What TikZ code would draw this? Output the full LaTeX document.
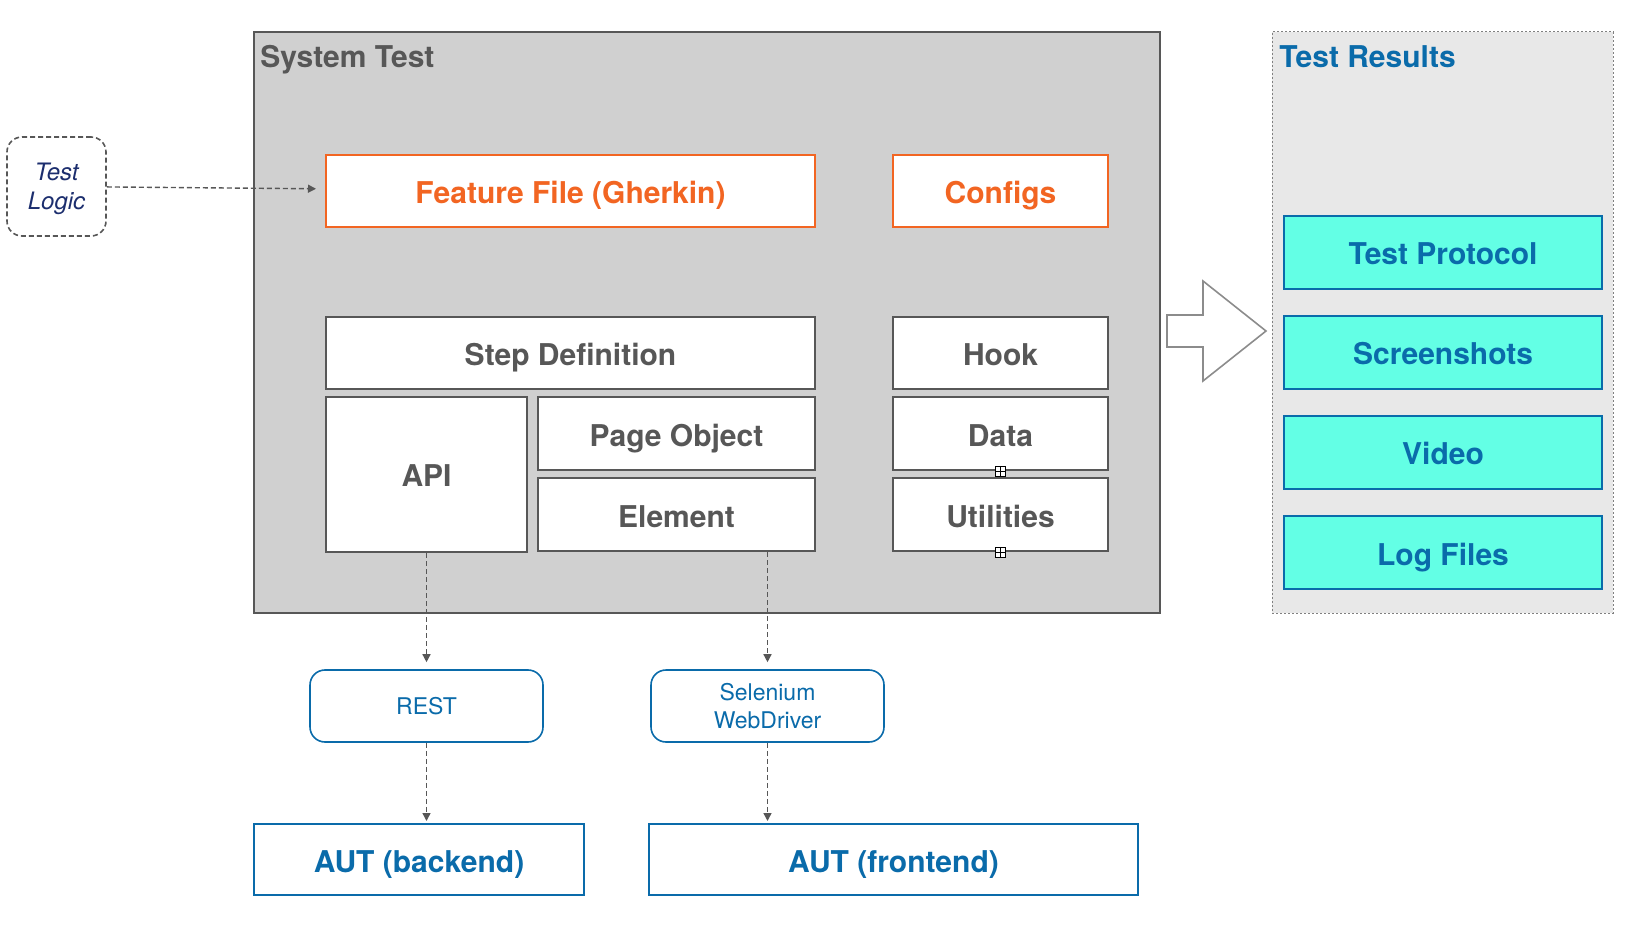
\documentclass[tikz,border=0pt]{standalone}
\usepackage{fontspec}
\setmainfont{TeX Gyre Heros}
\usetikzlibrary{arrows.meta,positioning}
\definecolor{txtgray}{HTML}{575757}
\definecolor{sysfill}{HTML}{D0D0D0}
\definecolor{resfill}{HTML}{E8E8E8}
\definecolor{ffOrange}{HTML}{F26522}
\definecolor{resBlue}{HTML}{0A6BAA}
\definecolor{resCyan}{HTML}{63FFE5}
\definecolor{logicNavy}{HTML}{1C2E6E}
\tikzset{
  block/.style     = {shape=rectangle, draw=txtgray, line width=1pt,
                      fill=white, inner sep=0pt, text=txtgray,
                      text height=12.5pt, text depth=0pt,
                      font=\bfseries\fontsize{15}{18}\selectfont},
  gherkin/.style   = {block, draw=ffOrange, text=ffOrange},
  result/.style    = {block, draw=resBlue, fill=resCyan, text=resBlue,
                      minimum width=159pt, minimum height=36.5pt},
  aut/.style       = {block, draw=resBlue, text=resBlue,
                      minimum height=35.5pt},
  lib/.style       = {shape=rectangle, rounded corners=7.5pt, draw=resBlue,
                      line width=0.8pt, fill=white, text=resBlue,
                      align=center, inner sep=0pt,
                      font=\fontsize{11.5}{14}\selectfont,
                      minimum width=116.5pt, minimum height=36pt},
  title/.style     = {anchor=base west, inner sep=0pt,
                      font=\bfseries\fontsize{15}{18}\selectfont},
  flow/.style      = {draw=txtgray, line width=0.7pt,
                      dash pattern=on 2.5pt off 1.5pt,
                      -{Triangle[length=4pt,width=4pt]}},
  marker/.style    = {draw=black, fill=white, line width=0.4pt,
                      minimum size=5pt, inner sep=0pt,
                      path picture={\draw[line width=0.4pt]
                        (path picture bounding box.north) -- (path picture bounding box.south)
                        (path picture bounding box.west) -- (path picture bounding box.east);}}
}

\begin{document}
\begin{tikzpicture}[x=0.5pt, y=-0.5pt]
  \useasboundingbox (0,0) rectangle (1638,935);

  % containers
  \node [draw=txtgray, line width=1pt, fill=sysfill,
         minimum width=453pt, minimum height=290.5pt] (systest) at (707,322.5) {};
  \node [title, text=txtgray] (systitle) at (260,68) {System Test};
  \node [draw=gray, line width=0.5pt, dash pattern=on 1pt off 1pt, fill=resfill,
         minimum width=170.5pt, minimum height=290.5pt] (results) at (1442.5,322.5) {};
  \node [title, text=resBlue] (restitle) at (1279,68) {Test Results};

  % test logic
  \node [draw=txtgray, line width=0.8pt, dash pattern=on 2.5pt off 1.5pt,
         rounded corners=7.5pt, minimum size=49.5pt, align=center, text depth=0pt,
         text=logicNavy, font=\itshape\fontsize{12}{14.5}\selectfont]
        (logic) at (56.5,186.5) {Test\\Logic};

  % system test blocks
  \node [gherkin, minimum width=244.5pt, minimum height=36pt] (feature) at (570.5,191) {Feature File (Gherkin)};
  \node [gherkin, minimum width=107.5pt, minimum height=36pt] (configs) at (1000.5,191) {Configs};
  \node [block, minimum width=244.5pt, minimum height=36pt] (stepdef) at (570.5,353) {Step Definition};
  \node [block, minimum width=107.5pt, minimum height=36pt] (hook) at (1000.5,353) {Hook};
  \node [block, minimum width=100.5pt, minimum height=77.5pt,
         below right=3pt and 0pt of stepdef.south west] (api) {API};
  \node [block, minimum width=138.5pt, minimum height=36.5pt,
         below left=3pt and 0pt of stepdef.south east] (pageobj) {Page Object};
  \node [block, minimum width=138.5pt, minimum height=36.5pt,
         below=3pt of pageobj] (element) {Element};
  \node [block, minimum width=107.5pt, minimum height=36.5pt,
         below=3pt of hook] (data) {Data};
  \node [block, minimum width=107.5pt, minimum height=36.5pt,
         below=3pt of data] (utils) {Utilities};
  \node [marker] (datamark) at (data.south) {};
  \node [marker] (utilsmark) at (utils.south) {};

  % results
  \node [result] (protocol) at (1443,252.5) {Test Protocol};
  \node [result] (shots) at (1443,352.5) {Screenshots};
  \node [result] (video) at (1443,452.5) {Video};
  \node [result] (logs) at (1443,552.5) {Log Files};

  % big arrow
  \draw [draw=gray!90, line width=0.8pt, fill=white]
    (1167,315) -- (1203,315) -- (1203,281) -- (1266,331)
    -- (1203,381) -- (1203,347) -- (1167,347) -- cycle;

  % drivers and AUT
  \node [lib] (rest) at (426.5,706) {REST};
  \node [lib] (selenium) at (767.5,706) {Selenium\\WebDriver};
  \node [aut, minimum width=165pt] (backend) at (419,859.5) {AUT (backend)};
  \node [aut, minimum width=244.5pt] (frontend) at (893.5,859.5) {AUT (frontend)};

  % connectors
  \draw [flow, shorten >=4.5pt] (logic) -- (feature);
  \draw [flow, shorten >=3.5pt] (api) -- (rest);
  \draw [flow, shorten >=3.5pt] (element.south -| selenium.north) -- (selenium);
  \draw [flow, shorten >=1pt] (rest) -- (rest.south |- backend.north);
  \draw [flow, shorten >=1pt] (selenium) -- (selenium.south |- frontend.north);
\end{tikzpicture}
\end{document}
